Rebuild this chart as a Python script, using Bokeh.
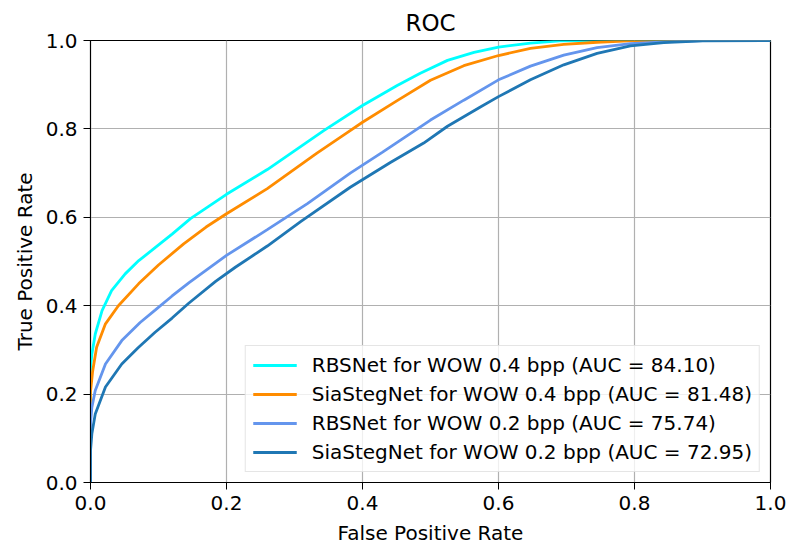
from bokeh.plotting import figure
from bokeh.models import Range1d, Legend, LegendItem, FixedTicker
from bokeh.embed import file_html
from bokeh.resources import INLINE

# ---- data ----
rbs04_fpr = [0.0, 0.0, 0.002, 0.007, 0.017, 0.031, 0.051, 0.071, 0.090, 0.120, 0.147, 0.200,
             0.260, 0.343, 0.400, 0.451, 0.485, 0.525, 0.564, 0.600, 0.647, 0.690, 0.750, 1.0]
rbs04_tpr = [0.0, 0.26, 0.29, 0.336, 0.389, 0.434, 0.472, 0.502, 0.525, 0.562, 0.597, 0.652,
             0.708, 0.796, 0.853, 0.898, 0.926, 0.955, 0.973, 0.985, 0.994, 0.999, 1.0, 1.0]

sia04_fpr = [0.0, 0.0, 0.003, 0.009, 0.022, 0.041, 0.071, 0.100, 0.137, 0.170, 0.200, 0.260,
             0.333, 0.377, 0.400, 0.451, 0.500, 0.549, 0.600, 0.647, 0.696, 0.745, 0.800, 1.0]
sia04_tpr = [0.0, 0.205, 0.25, 0.306, 0.359, 0.400, 0.450, 0.492, 0.540, 0.578, 0.608, 0.665,
             0.745, 0.791, 0.815, 0.864, 0.910, 0.943, 0.966, 0.982, 0.991, 0.996, 1.0, 1.0]

rbs02_fpr = [0.0, 0.0, 0.002, 0.007, 0.022, 0.046, 0.073, 0.095, 0.120, 0.145, 0.200, 0.260,
             0.319, 0.382, 0.429, 0.500, 0.549, 0.600, 0.647, 0.696, 0.745, 0.794, 0.843, 0.900, 1.0]
rbs02_tpr = [0.0, 0.133, 0.17, 0.208, 0.268, 0.321, 0.362, 0.390, 0.422, 0.452, 0.514, 0.572,
             0.631, 0.700, 0.747, 0.820, 0.865, 0.911, 0.942, 0.967, 0.984, 0.993, 0.997, 1.0, 1.0]

sia02_fpr = [0.0, 0.0, 0.002, 0.007, 0.022, 0.046, 0.070, 0.095, 0.120, 0.144, 0.184, 0.213,
             0.260, 0.309, 0.382, 0.441, 0.490, 0.525, 0.574, 0.600, 0.647, 0.696, 0.745, 0.794,
             0.843, 0.900, 1.0]
sia02_tpr = [0.0, 0.072, 0.11, 0.155, 0.216, 0.268, 0.305, 0.340, 0.372, 0.405, 0.455, 0.487,
             0.535, 0.590, 0.668, 0.724, 0.768, 0.806, 0.850, 0.873, 0.911, 0.945, 0.971, 0.988,
             0.995, 0.999, 1.0]

labels = ["RBSNet for WOW 0.4 bpp (AUC = 84.10)",
          "SiaStegNet for WOW 0.4 bpp (AUC = 81.48)",
          "RBSNet for WOW 0.2 bpp (AUC = 75.74)",
          "SiaStegNet for WOW 0.2 bpp (AUC = 72.95)"]
colors = ["#00FFFF", "#FF8C00", "#6495ED", "#1F77B4"]
ticks = [0.0, 0.2, 0.4, 0.6, 0.8, 1.0]

FONT = "DejaVu Sans"

p = figure(width=789, height=547, output_backend="svg", toolbar_location=None,
           x_range=Range1d(0, 1), y_range=Range1d(0, 1),
           min_border_left=90, min_border_right=19, min_border_top=40, min_border_bottom=65,
           title="ROC")

p.title.align = "center"
p.title.text_font = FONT
p.title.text_font_size = "23px"
p.title.text_font_style = "normal"
p.title.text_color = "black"

p.outline_line_color = "black"
p.outline_line_width = 1.2
p.outline_line_alpha = 1.0

for ax in (p.xaxis[0], p.yaxis[0]):
    ax.ticker = FixedTicker(ticks=ticks)
    ax.major_label_overrides = {t: f"{t:.1f}" for t in ticks}
    ax.major_label_text_font = FONT
    ax.major_label_text_font_size = "20px"
    ax.major_label_text_color = "black"
    ax.axis_label_text_font = FONT
    ax.axis_label_text_font_size = "20px"
    ax.axis_label_text_font_style = "normal"
    ax.axis_label_text_color = "black"
    ax.major_tick_out = 7
    ax.major_tick_in = 0
    ax.minor_tick_out = 0
    ax.minor_tick_in = 0
    ax.major_tick_line_color = "black"
    ax.axis_line_color = "black"

p.xaxis.axis_label = "False Positive Rate"
p.yaxis.axis_label = "True Positive Rate"
p.xaxis.major_label_standoff = 6
p.yaxis.major_label_standoff = 6
p.xaxis.axis_label_standoff = 8
p.yaxis.axis_label_standoff = 6

p.xgrid.grid_line_color = "#b0b0b0"
p.ygrid.grid_line_color = "#b0b0b0"
p.xgrid.grid_line_width = 1.2
p.ygrid.grid_line_width = 1.2
p.xgrid.ticker = FixedTicker(ticks=ticks)
p.ygrid.ticker = FixedTicker(ticks=ticks)

series = [(rbs04_fpr, rbs04_tpr), (sia04_fpr, sia04_tpr),
          (rbs02_fpr, rbs02_tpr), (sia02_fpr, sia02_tpr)]
items = []
for (xs, ys), lab, col in zip(series, labels, colors):
    r = p.line(xs, ys, line_color=col, line_width=2.8)
    items.append(LegendItem(label=lab, renderers=[r]))

legend = Legend(items=items, location="bottom_right")
legend.label_text_font = FONT
legend.label_text_font_size = "20px"
legend.label_text_color = "black"
legend.glyph_width = 44
legend.glyph_height = 22
legend.label_height = 22
legend.label_standoff = 15
legend.spacing = 5
legend.padding = 7
legend.margin = 10
legend.border_line_color = "#cccccc"
legend.border_line_width = 1
legend.background_fill_color = "white"
legend.background_fill_alpha = 0.8
p.add_layout(legend, "center")

open("out.html", "w").write(file_html(p, INLINE))
